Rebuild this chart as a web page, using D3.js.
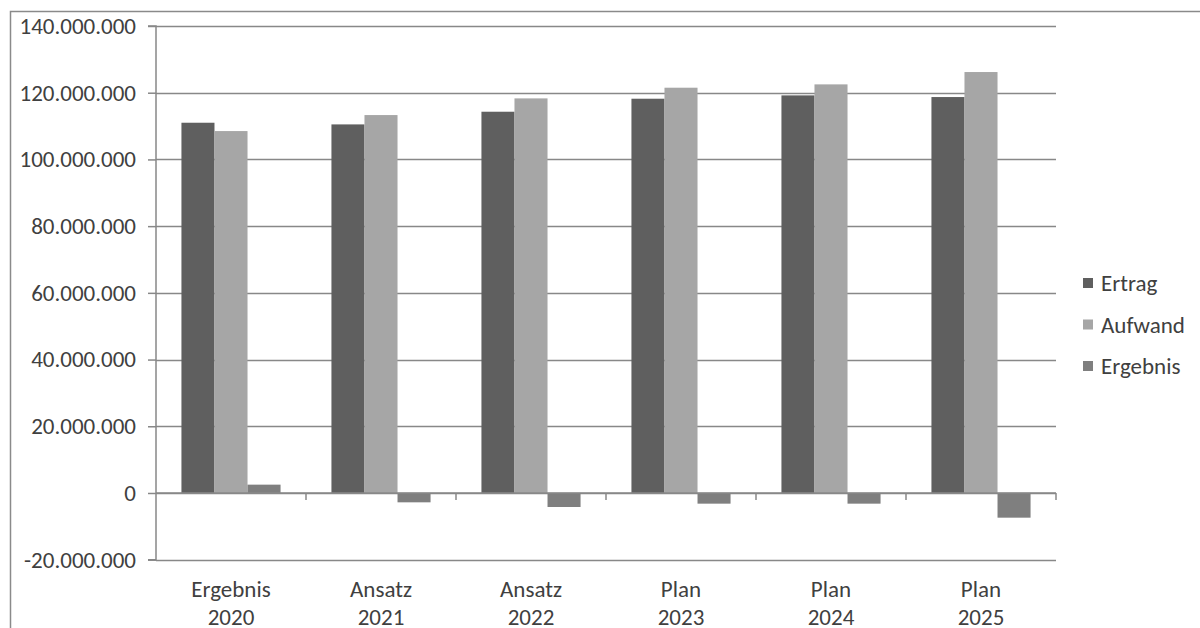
<!DOCTYPE html>
<html><head><meta charset="utf-8">
<script src="https://cdn.jsdelivr.net/npm/d3@7"></script>
<style>html,body{margin:0;padding:0;background:#fff;}svg{display:block;}</style>
</head><body>
<svg id="c" width="1200" height="628"></svg>
<script>
const categories = [["Ergebnis","2020"],["Ansatz","2021"],["Ansatz","2022"],["Plan","2023"],["Plan","2024"],["Plan","2025"]];
const seriesNames = ["Ertrag","Aufwand","Ergebnis"];
const ertrag   = [111000000,110500000,114300000,118200000,119200000,118700000];
const aufwand  = [108500000,113300000,118300000,121500000,122500000,126200000];
const ergebnis = [2500000,-2800000,-4200000,-3200000,-3200000,-7400000];
const yTicks = [-20000000,0,20000000,40000000,60000000,80000000,100000000,120000000,140000000];
const colors = ["#5f5f5f","#a6a6a6","#7f7f7f"];

const series = [ertrag, aufwand, ergebnis];
const svg = d3.select("#c");
const fontFam = "Carlito, Lato, 'Open Sans', sans-serif";
const textCol = "#404040";
const fs = 23;

// outer border
svg.append("path").attr("d","M10.5,628 V11.5 H1200").attr("fill","none").attr("stroke","#8a8a8a").attr("stroke-width",1.5);

const x0 = 156, x1 = 1056;
const y = d3.scaleLinear().domain([-20000000,140000000]).range([559.7,26]);
const x = d3.scaleBand().domain(d3.range(categories.length)).range([x0,x1]).paddingInner(0).paddingOuter(0);
const xs = d3.scaleBand().domain(d3.range(3)).range([0,x.bandwidth()]).paddingInner(0).paddingOuter(0.77);

const fmt = v => v===0 ? "0" : d3.format(",")(v).replace(/,/g,".").replace("\u2212","-");

// gridlines
svg.append("g").selectAll("line").data(yTicks).join("line")
  .attr("x1",x0).attr("x2",x1).attr("y1",d=>Math.round(y(d))+0.5).attr("y2",d=>Math.round(y(d))+0.5)
  .attr("stroke","#888").attr("stroke-width",1.5);

// y axis
const yAxis = d3.axisLeft(y).tickValues(yTicks).tickFormat(fmt).tickSize(8).tickPadding(12);
const gy = svg.append("g").attr("transform",`translate(${x0},0)`).call(yAxis);
gy.select(".domain").attr("stroke","#888").attr("stroke-width",1.5).attr("d",`M-8,${y(-20000000)}H0V${y(140000000)}H-8`);
gy.selectAll(".tick line").attr("stroke","#888").attr("stroke-width",1.5);
gy.selectAll(".tick text").attr("font-family",fontFam).attr("font-size",fs).attr("fill",textCol);

// bars
const groups = svg.append("g").selectAll("g").data(categories).join("g")
  .attr("transform",(d,i)=>`translate(${x(i)},0)`);
groups.selectAll("rect").data((d,i)=>series.map((s,k)=>({k,v:s[i]}))).join("rect")
  .attr("x",d=>xs(d.k)).attr("width",xs.bandwidth())
  .attr("y",d=>y(Math.max(0,d.v))).attr("height",d=>Math.abs(y(d.v)-y(0)))
  .attr("fill",d=>colors[d.k]);

// category axis along zero line
const gx = svg.append("g");
gx.append("line").attr("x1",x0).attr("x2",x1).attr("y1",y(0)).attr("y2",y(0)).attr("stroke","#888").attr("stroke-width",1.5);
gx.selectAll("line.t").data(d3.range(1,categories.length+1)).join("line").attr("class","t")
  .attr("x1",i=>x0+i*x.bandwidth()).attr("x2",i=>x0+i*x.bandwidth())
  .attr("y1",y(0)).attr("y2",y(0)+7).attr("stroke","#888").attr("stroke-width",1.5);

// category labels
const lab = svg.append("g").selectAll("text").data(categories).join("text")
  .attr("x",(d,i)=>x(i)+x.bandwidth()/2).attr("y",597)
  .attr("text-anchor","middle").attr("font-family",fontFam).attr("font-size",fs).attr("fill",textCol);
lab.append("tspan").attr("x",(d,i)=>x(i)+x.bandwidth()/2).text(d=>d[0]);
lab.append("tspan").attr("x",(d,i)=>x(i)+x.bandwidth()/2).attr("dy",28).text(d=>d[1]);

// legend
const lg = svg.append("g").selectAll("g").data(seriesNames).join("g")
  .attr("transform",(d,i)=>`translate(1083,${283+i*41.5})`);
lg.append("rect").attr("x",0).attr("y",-5).attr("width",10).attr("height",10).attr("fill",(d,i)=>colors[i]);
lg.append("text").attr("x",18).attr("y",8).attr("font-family",fontFam).attr("font-size",fs).attr("fill",textCol).text(d=>d);
</script>
</body></html>
